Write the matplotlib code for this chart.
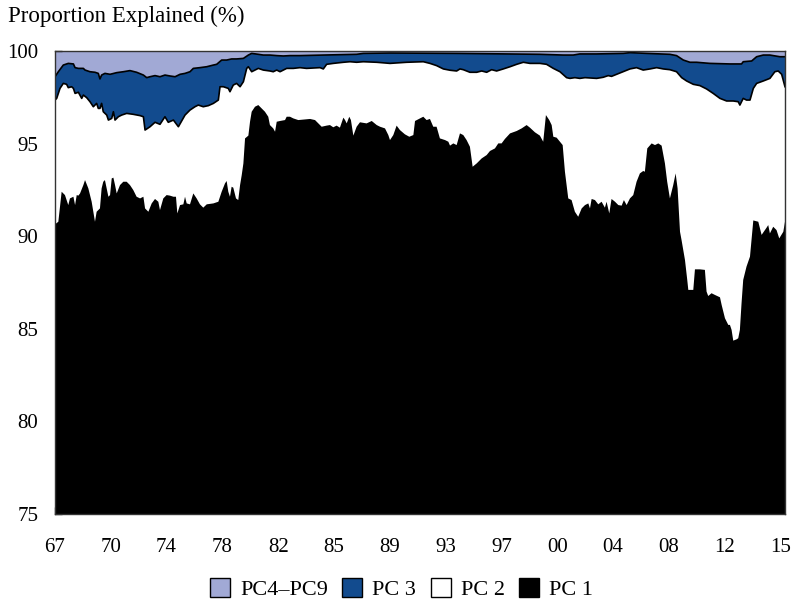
import matplotlib
matplotlib.use("Agg")
import matplotlib.pyplot as plt
from matplotlib.patches import Patch

# Cumulative share of variance explained (%), by date (decimal years)
# PC 1 alone
t_pc1 = [1967.00, 1967.22, 1967.44, 1967.66, 1967.88, 1967.99, 1968.22, 1968.33, 1968.44, 1968.55,
         1968.66, 1968.88, 1968.99, 1969.21, 1969.43, 1969.65, 1969.76, 1969.98, 1970.09, 1970.20,
         1970.31, 1970.54, 1970.65, 1970.76, 1970.87, 1970.98, 1971.09, 1971.31, 1971.53, 1971.75,
         1971.97, 1972.19, 1972.41, 1972.64, 1972.86, 1972.97, 1973.19, 1973.41, 1973.63, 1973.85,
         1973.96, 1974.18, 1974.40, 1974.62, 1974.85, 1975.02, 1975.11, 1975.29, 1975.51, 1975.62,
         1975.73, 1975.95, 1976.17, 1976.39, 1976.61, 1976.83, 1977.06, 1977.50, 1977.83, 1978.05,
         1978.27, 1978.38, 1978.49, 1978.60, 1978.71, 1978.82, 1979.00, 1979.15, 1979.27, 1979.38,
         1979.49, 1979.60, 1979.82, 1979.93, 1980.04, 1980.26, 1980.48, 1980.70, 1980.92, 1981.14,
         1981.25, 1981.47, 1981.59, 1981.70, 1981.92, 1982.25, 1982.36, 1982.58, 1982.80, 1983.13,
         1983.91, 1984.24, 1984.68, 1985.01, 1985.23, 1985.45, 1985.67, 1985.89, 1986.12, 1986.23,
         1986.34, 1986.51, 1986.62, 1986.78, 1987.00, 1987.22, 1987.66, 1988.00, 1988.33, 1988.55,
         1988.88, 1989.10, 1989.21, 1989.43, 1989.65, 1989.87, 1990.20, 1990.49, 1990.76, 1990.87,
         1991.20, 1991.42, 1991.64, 1991.86, 1992.08, 1992.30, 1992.52, 1992.86, 1993.08, 1993.19,
         1993.41, 1993.63, 1993.85, 1994.07, 1994.29, 1994.51, 1994.69, 1994.96, 1995.29, 1995.62,
         1995.84, 1996.17, 1996.39, 1996.61, 1996.83, 1997.17, 1997.61, 1997.94, 1998.27, 1998.49,
         1998.82, 1999.15, 1999.37, 1999.55, 1999.77, 1999.93, 2000.04, 2000.26, 2000.48, 2000.66,
         2000.81, 2001.03, 2001.25, 2001.47, 2001.69, 2001.92, 2002.14, 2002.36, 2002.47, 2002.58,
         2002.80, 2003.02, 2003.24, 2003.46, 2003.57, 2003.75, 2003.90, 2004.13, 2004.35, 2004.57,
         2004.72, 2004.90, 2005.12, 2005.34, 2005.56, 2005.78, 2006.00, 2006.11, 2006.27, 2006.56,
         2006.78, 2007.00, 2007.22, 2007.44, 2007.59, 2007.77, 2007.99, 2008.15, 2008.28, 2008.44,
         2008.54, 2008.77, 2008.92, 2008.99, 2009.32, 2009.43, 2009.76, 2010.09, 2010.20, 2010.31,
         2010.53, 2010.75, 2011.09, 2011.20, 2011.42, 2011.64, 2011.75, 2011.86, 2011.97, 2012.19,
         2012.30, 2012.41, 2012.52, 2012.63, 2012.85, 2013.08, 2013.30, 2013.63, 2013.85, 2014.18,
         2014.29, 2014.40, 2014.62, 2014.84, 2015.02, 2015.29, 2015.40]
pc1 = [90.64, 90.78, 92.40, 92.22, 91.68, 92.04, 92.13, 91.68, 92.22, 92.19,
       92.31, 92.76, 93.03, 92.58, 91.86, 90.78, 91.32, 91.50, 92.58, 92.94,
       93.03, 92.13, 92.22, 93.12, 93.16, 92.76, 92.31, 92.76, 92.94, 92.94,
       92.76, 92.49, 92.13, 92.04, 92.13, 91.50, 91.32, 91.77, 92.01, 91.86,
       91.41, 92.04, 92.22, 92.19, 92.13, 92.13, 91.23, 91.68, 91.72, 92.13,
       91.77, 91.72, 92.31, 92.04, 91.72, 91.54, 91.72, 91.77, 91.86, 92.40,
       92.85, 92.98, 92.40, 92.13, 92.67, 92.62, 92.04, 91.95, 92.76, 93.30,
       93.93, 95.28, 95.43, 96.18, 96.72, 96.99, 97.08, 96.90, 96.72, 96.45,
       96.00, 95.82, 95.64, 96.18, 96.22, 96.27, 96.45, 96.45, 96.36, 96.27,
       96.33, 96.27, 95.91, 95.97, 96.00, 95.88, 95.97, 95.86, 96.40, 96.27,
       96.09, 96.45, 96.27, 95.43, 95.91, 96.15, 96.09, 96.22, 96.00, 95.91,
       95.82, 95.46, 95.19, 95.46, 95.97, 95.73, 95.50, 95.37, 95.46, 96.22,
       96.36, 96.45, 96.27, 96.33, 95.91, 95.91, 95.28, 95.19, 95.10, 94.89,
       95.01, 94.92, 95.55, 95.46, 95.19, 94.83, 93.75, 93.93, 94.20, 94.38,
       94.60, 94.74, 95.01, 95.01, 95.25, 95.55, 95.68, 95.82, 96.00, 95.86,
       95.61, 95.43, 95.10, 96.54, 96.27, 96.00, 95.37, 95.32, 95.10, 94.92,
       93.48, 92.04, 91.95, 91.32, 91.05, 91.50, 91.68, 91.77, 91.50, 92.01,
       91.95, 91.72, 91.86, 91.54, 91.86, 91.23, 92.01, 91.86, 91.68, 91.65,
       91.95, 91.68, 92.04, 92.22, 92.94, 93.39, 93.52, 93.48, 94.74, 95.01,
       94.92, 95.01, 94.89, 93.93, 92.94, 92.04, 92.76, 93.39, 92.58, 90.24,
       89.80, 88.71, 87.64, 87.10, 87.10, 88.21, 88.21, 88.18, 87.01, 86.77,
       86.92, 86.83, 86.70, 86.29, 85.57, 85.21, 85.21, 84.94, 84.36, 84.43,
       84.49, 84.94, 86.38, 87.64, 88.36, 88.90, 90.85, 90.78, 90.07, 90.46,
       90.60, 90.15, 90.51, 90.33, 89.88, 90.24, 90.78]

# PC 1 + PC 2
t_pc12 = [1967.00, 1967.11, 1967.33, 1967.55, 1967.77, 1967.88, 1968.10, 1968.22, 1968.33, 1968.55,
          1968.77, 1968.88, 1969.10, 1969.32, 1969.54, 1969.76, 1969.87, 1969.98, 1970.09, 1970.20,
          1970.43, 1970.54, 1970.76, 1970.87, 1970.98, 1971.20, 1971.42, 1971.75, 1972.19, 1972.64,
          1972.86, 1972.97, 1973.30, 1973.63, 1973.96, 1974.29, 1974.51, 1974.85, 1975.18, 1975.40,
          1975.62, 1975.95, 1976.28, 1976.50, 1976.83, 1977.17, 1977.50, 1977.83, 1977.94, 1978.16,
          1978.49, 1978.60, 1978.82, 1979.04, 1979.27, 1979.49, 1979.71, 1979.82, 1980.04, 1980.26,
          1980.48, 1980.81, 1981.25, 1981.47, 1981.70, 1981.92, 1982.36, 1982.80, 1983.24, 1983.68,
          1984.57, 1984.79, 1985.01, 1985.45, 1986.12, 1986.56, 1987.00, 1987.44, 1988.33, 1989.21,
          1990.31, 1991.42, 1991.86, 1992.30, 1992.75, 1993.19, 1993.63, 1993.85, 1994.07, 1994.51,
          1994.96, 1995.29, 1995.62, 1995.95, 1996.28, 1996.72, 1997.17, 1997.61, 1998.05, 1998.49,
          1999.15, 1999.59, 2000.04, 2000.48, 2000.92, 2001.14, 2001.47, 2001.80, 2002.14, 2002.91,
          2003.35, 2003.68, 2003.90, 2004.24, 2004.68, 2005.12, 2005.56, 2006.00, 2006.45, 2006.89,
          2007.33, 2007.77, 2008.21, 2008.55, 2008.88, 2009.32, 2009.76, 2010.20, 2010.64, 2011.09,
          2011.53, 2011.97, 2012.30, 2012.41, 2012.63, 2012.85, 2013.08, 2013.30, 2013.52, 2013.96,
          2014.40, 2014.73, 2014.95, 2015.18, 2015.40]
pc12 = [97.35, 97.44, 97.98, 98.25, 98.20, 98.02, 98.07, 97.98, 97.71, 97.77,
        97.44, 97.62, 97.48, 97.26, 96.99, 97.17, 96.90, 96.90, 97.17, 96.72,
        96.54, 96.27, 96.36, 96.72, 96.27, 96.45, 96.54, 96.63, 96.58, 96.51,
        96.45, 95.73, 95.91, 96.15, 96.04, 96.45, 96.15, 96.27, 95.91, 96.22,
        96.54, 96.81, 96.99, 97.08, 96.99, 97.05, 97.17, 97.35, 98.07, 98.07,
        97.98, 97.80, 98.16, 98.25, 98.07, 98.34, 99.06, 99.15, 98.88, 98.97,
        99.06, 98.97, 98.92, 98.88, 98.97, 98.88, 99.06, 99.06, 99.10, 99.06,
        99.10, 99.03, 99.28, 99.33, 99.39, 99.42, 99.39, 99.42, 99.39, 99.33,
        99.39, 99.42, 99.33, 99.21, 99.03, 98.96, 98.92, 99.03, 98.99, 98.85,
        98.85, 98.92, 98.85, 98.99, 98.92, 99.03, 99.15, 99.28, 99.39, 99.33,
        99.33, 99.28, 99.06, 98.88, 98.56, 98.52, 98.56, 98.52, 98.56, 98.52,
        98.58, 98.67, 98.63, 98.74, 98.88, 99.03, 99.10, 98.97, 99.03, 99.10,
        99.03, 98.99, 98.88, 98.56, 98.38, 98.20, 98.13, 97.95, 97.71, 97.44,
        97.30, 97.30, 97.26, 97.08, 97.44, 97.35, 97.35, 97.98, 98.25, 98.38,
        98.52, 98.88, 98.92, 98.74, 98.07]

# PC 1 + PC 2 + PC 3
t_pc123 = [1967.00, 1967.22, 1967.55, 1967.88, 1968.22, 1968.33, 1968.55, 1968.88, 1968.99, 1969.32,
           1969.65, 1969.87, 1969.98, 1970.09, 1970.31, 1970.65, 1971.09, 1971.53, 1971.97, 1972.41,
           1972.86, 1973.08, 1973.30, 1973.63, 1973.96, 1974.29, 1974.62, 1974.96, 1975.29, 1975.62,
           1975.95, 1976.17, 1976.61, 1977.06, 1977.50, 1977.72, 1978.05, 1978.38, 1978.71, 1979.04,
           1979.49, 1979.82, 1980.04, 1980.48, 1980.81, 1981.25, 1981.70, 1982.14, 1982.58, 1983.24,
           1984.79, 1987.00, 1987.44, 1989.21, 1993.63, 1999.15, 2000.70, 2001.36, 2001.80, 2002.91,
           2004.68, 2005.12, 2006.22, 2007.77, 2008.21, 2008.66, 2009.10, 2009.54, 2010.42, 2011.75,
           2012.52, 2012.63, 2013.19, 2013.52, 2013.96, 2014.40, 2015.06, 2015.40]
pc123 = [98.61, 98.88, 99.24, 99.33, 99.30, 99.10, 99.06, 99.06, 98.97, 98.88,
         98.85, 98.79, 98.49, 98.70, 98.79, 98.74, 98.83, 98.88, 98.94, 98.85,
         98.70, 98.56, 98.61, 98.67, 98.61, 98.70, 98.65, 98.61, 98.74, 98.79,
         98.88, 99.06, 99.10, 99.15, 99.24, 99.28, 99.51, 99.51, 99.57, 99.57,
         99.60, 99.78, 99.87, 99.82, 99.78, 99.78, 99.75, 99.73, 99.75, 99.75,
         99.78, 99.82, 99.87, 99.89, 99.87, 99.82, 99.78, 99.78, 99.84, 99.84,
         99.87, 99.91, 99.87, 99.82, 99.75, 99.51, 99.39, 99.39, 99.33, 99.30,
         99.30, 99.42, 99.46, 99.69, 99.78, 99.78, 99.69, 99.69]

tick_pos = [1967.0, 1970.7, 1974.4, 1978.1, 1981.8, 1985.5, 1989.2,
            1992.9, 1996.6, 2000.3, 2004.0, 2007.7, 2011.4, 2015.1]
tick_labels = ["67", "70", "74", "78", "82", "85", "89",
               "93", "97", "00", "04", "08", "12", "15"]
series_names = ["PC4\u2013PC9", "PC 3", "PC 2", "PC 1"]

c_rest = "#A1A9D5"
c_pc3 = "#124B8E"
c_pc2 = "#FFFFFF"
c_pc1 = "#000000"

plt.rcParams["font.family"] = ["Liberation Serif", "DejaVu Serif"]
plt.rcParams["font.size"] = 15

fig = plt.figure(figsize=(7.95, 6.04), dpi=100)
ax = fig.add_axes([0.0692, 0.149, 0.9182, 0.7666])

# layers: remaining components on top, then PC3, PC2, PC1 from the floor
ax.fill_between(t_pc123, pc123, 100, color=c_rest, lw=0)
ax.fill_between(t_pc123, 0, pc123, color=c_pc3, lw=0)
ax.plot(t_pc123, pc123, color="black", lw=1.2, zorder=3)
ax.fill_between(t_pc12, 0, pc12, color=c_pc2, lw=0, zorder=3.2)
ax.plot(t_pc12, pc12, color="black", lw=1.2, zorder=3.3)
ax.fill_between(t_pc1, 0, pc1, color=c_pc1, lw=0, zorder=3.5)

ax.set_xlim(1967.0, 2015.4)
ax.set_ylim(75, 100)
ax.set_yticks([75, 80, 85, 90, 95, 100])
ax.set_xticks(tick_pos)
ax.set_xticklabels(tick_labels)
ax.tick_params(axis="y", direction="in", length=5, width=1, pad=12, color="#333333")
ax.tick_params(axis="x", direction="in", length=5, width=1, pad=17, color="#333333")
for s in ax.spines.values():
    s.set_color("#333333")
    s.set_linewidth(1.0)
    s.set_zorder(5)

fig.text(0.01, 1 - 16 / 604, "Proportion Explained (%)", ha="left", va="center", fontsize=16.5)

handles = [Patch(facecolor=c, edgecolor="black", linewidth=1.0)
           for c in (c_rest, c_pc3, c_pc2, c_pc1)]
fig.legend(handles, series_names, loc="center", bbox_to_anchor=(0.505, 1 - 589 / 604),
           ncol=4, frameon=False, handlelength=0.9, handleheight=0.9,
           handletextpad=0.45, columnspacing=0.65, borderaxespad=0, fontsize=16)

fig.savefig("out.png", dpi=100)
